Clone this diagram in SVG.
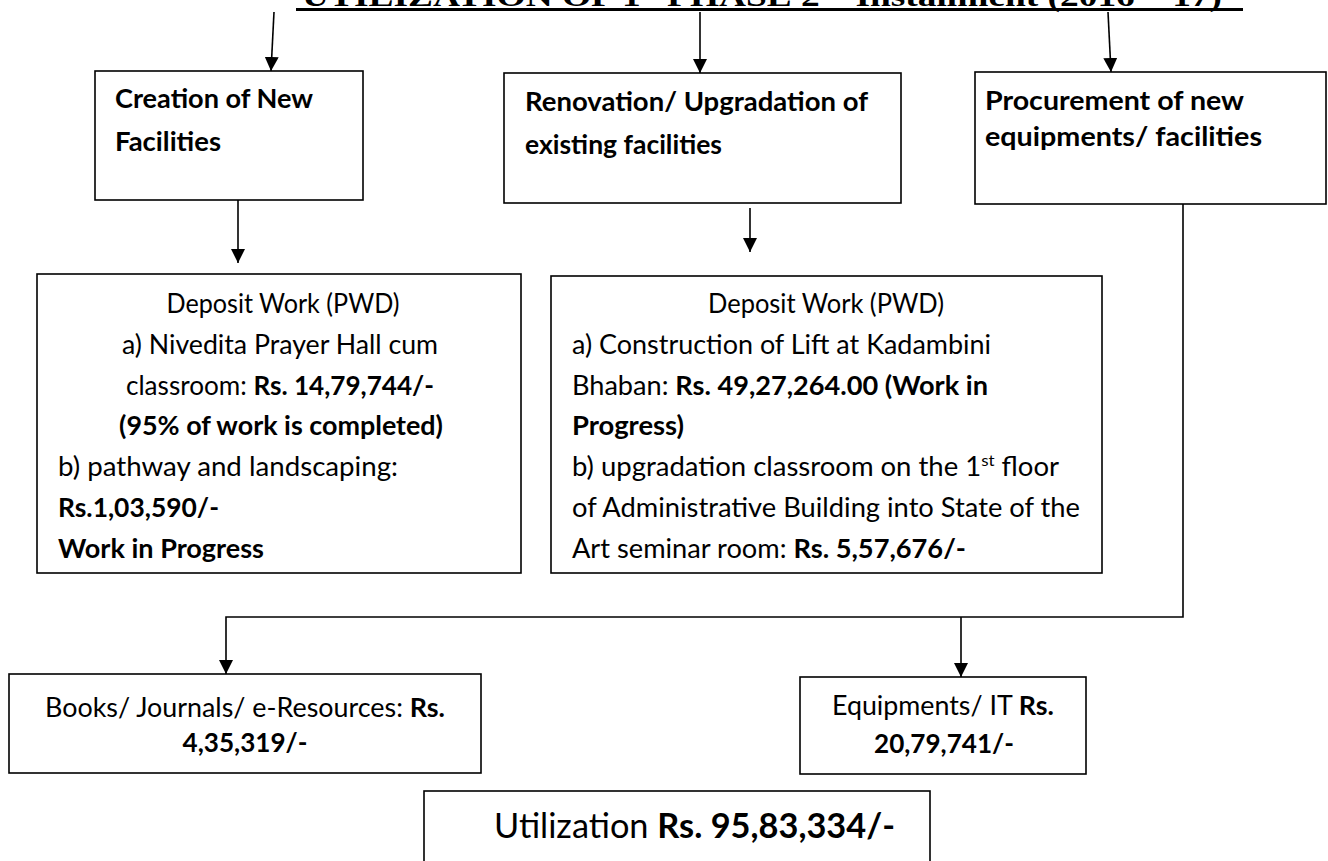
<svg xmlns="http://www.w3.org/2000/svg" width="1328" height="861" viewBox="0 0 1328 861">
<style>
.box{fill:#fff;stroke:#000;stroke-width:1.6}
.t{font-family:Lato,"Liberation Sans",sans-serif;font-size:26px;fill:#000}
.h{font-family:Lato,"Liberation Sans",sans-serif;font-size:27px;font-weight:bold;fill:#000}
.b{font-weight:bold}
.title{font-family:"Liberation Serif","Times New Roman",serif;font-size:30px;font-weight:bold;fill:#000}
.c{fill:none;stroke:#000;stroke-width:1.6}
</style>
<defs>
<marker id="arr" viewBox="0 0 10 10" refX="10" refY="5" markerWidth="14" markerHeight="14" markerUnits="userSpaceOnUse" orient="auto">
<path d="M0,0 L10,5 L0,10 z" fill="#000"/>
</marker>
<clipPath id="clipdw1"><rect x="37" y="274" width="484" height="288"/></clipPath>
</defs>
<rect width="1328" height="861" fill="#fff"/>
<g id="title">
<text class="title" x="302" y="6" textLength="920" lengthAdjust="spacingAndGlyphs">UTILIZATION OF 1<tspan font-size="19" dy="-12">st</tspan><tspan dy="12"> PHASE 2</tspan><tspan font-size="19" dy="-12">nd</tspan><tspan dy="12"> Installment (2016 – 17)</tspan></text>
<line x1="296" y1="9.5" x2="1243" y2="9.5" stroke="#000" stroke-width="3"/>
</g>
<g id="connectors">
<line class="c" x1="274" y1="12" x2="271" y2="71" marker-end="url(#arr)"/>
<line class="c" x1="700" y1="12" x2="700" y2="73" marker-end="url(#arr)"/>
<line class="c" x1="1108" y1="12" x2="1111" y2="72" marker-end="url(#arr)"/>
<line class="c" x1="238" y1="197" x2="238" y2="263" marker-end="url(#arr)"/>
<line class="c" x1="750" y1="208" x2="750" y2="252" marker-end="url(#arr)"/>
<polyline class="c" points="1183,204 1183,617 226,617 226,674" marker-end="url(#arr)"/>
<line class="c" x1="961" y1="617" x2="961" y2="677" marker-end="url(#arr)"/>
</g>
<g id="new-facilities">
<rect class="box" x="95" y="71" width="268" height="129"/>
<text class="h" x="115" y="108" textLength="198" lengthAdjust="spacingAndGlyphs">Creation of New</text>
<text class="h" x="115" y="151" textLength="106" lengthAdjust="spacingAndGlyphs">Facilities</text>
</g>
<g id="renovation">
<rect class="box" x="504" y="73" width="397" height="130"/>
<text class="h" x="525" y="111" textLength="343" lengthAdjust="spacingAndGlyphs">Renovation/ Upgradation of</text>
<text class="h" x="525" y="154" textLength="197" lengthAdjust="spacingAndGlyphs">existing facilities</text>
</g>
<g id="procurement">
<rect class="box" x="975" y="72" width="351" height="132"/>
<text class="h" x="985" y="110" textLength="259" lengthAdjust="spacingAndGlyphs">Procurement of new</text>
<text class="h" x="985" y="146" textLength="277" lengthAdjust="spacingAndGlyphs">equipments/ facilities</text>
</g>
<g id="deposit-work-1">
<rect class="box" x="37" y="274" width="484" height="299"/>
<g clip-path="url(#clipdw1)">
<text class="t" x="283" y="313" text-anchor="middle" textLength="233" lengthAdjust="spacingAndGlyphs">Deposit Work (PWD)</text>
<text class="t" x="280" y="354" text-anchor="middle" textLength="316" lengthAdjust="spacingAndGlyphs">a) Nivedita Prayer Hall cum</text>
<text class="t" x="280" y="395" text-anchor="middle" textLength="308" lengthAdjust="spacingAndGlyphs">classroom: <tspan class="b">Rs. 14,79,744/-</tspan></text>
<text class="t b" x="281" y="435" text-anchor="middle" textLength="324" lengthAdjust="spacingAndGlyphs">(95% of work is completed)</text>
<text class="t" x="58" y="476" textLength="340" lengthAdjust="spacingAndGlyphs">b) pathway and landscaping:</text>
<text class="t b" x="58" y="517" textLength="161" lengthAdjust="spacingAndGlyphs">Rs.1,03,590/-</text>
<text class="t b" x="58" y="558" textLength="206" lengthAdjust="spacingAndGlyphs">Work in Progress</text>
</g>
</g>
<g id="deposit-work-2">
<rect class="box" x="551" y="276" width="551" height="297"/>
<text class="t" x="826" y="313" text-anchor="middle" textLength="236" lengthAdjust="spacingAndGlyphs">Deposit Work (PWD)</text>
<text class="t" x="572" y="354" textLength="419" lengthAdjust="spacingAndGlyphs">a) Construction of Lift at Kadambini</text>
<text class="t" x="572" y="395" textLength="416" lengthAdjust="spacingAndGlyphs">Bhaban: <tspan class="b">Rs. 49,27,264.00 (Work in</tspan></text>
<text class="t b" x="572" y="435" textLength="112" lengthAdjust="spacingAndGlyphs">Progress)</text>
<text class="t" x="572" y="476" textLength="487" lengthAdjust="spacingAndGlyphs">b) upgradation classroom on the 1<tspan font-size="16" dy="-10">st</tspan><tspan dy="10"> floor</tspan></text>
<text class="t" x="572" y="517" textLength="508" lengthAdjust="spacingAndGlyphs">of Administrative Building into State of the</text>
<text class="t" x="572" y="558" textLength="394" lengthAdjust="spacingAndGlyphs">Art seminar room: <tspan class="b">Rs. 5,57,676/-</tspan></text>
</g>
<g id="books">
<rect class="box" x="9" y="674" width="472" height="99"/>
<text class="t" x="245" y="717" text-anchor="middle" textLength="400" lengthAdjust="spacingAndGlyphs">Books/ Journals/ e-Resources: <tspan class="b">Rs.</tspan></text>
<text class="t b" x="245" y="752" text-anchor="middle" textLength="125" lengthAdjust="spacingAndGlyphs">4,35,319/-</text>
</g>
<g id="equipments">
<rect class="box" x="800" y="677" width="286" height="97"/>
<text class="t" x="943" y="715" text-anchor="middle" textLength="222" lengthAdjust="spacingAndGlyphs">Equipments/ IT <tspan class="b">Rs.</tspan></text>
<text class="t b" x="944" y="753" text-anchor="middle" textLength="140" lengthAdjust="spacingAndGlyphs">20,79,741/-</text>
</g>
<g id="utilization">
<rect class="box" x="424" y="791" width="506" height="90"/>
<text class="t" x="494" y="838" style="font-size:35px" textLength="401" lengthAdjust="spacingAndGlyphs">Utilization  <tspan class="b">Rs. 95,83,334/-</tspan></text>
</g>
</svg>
